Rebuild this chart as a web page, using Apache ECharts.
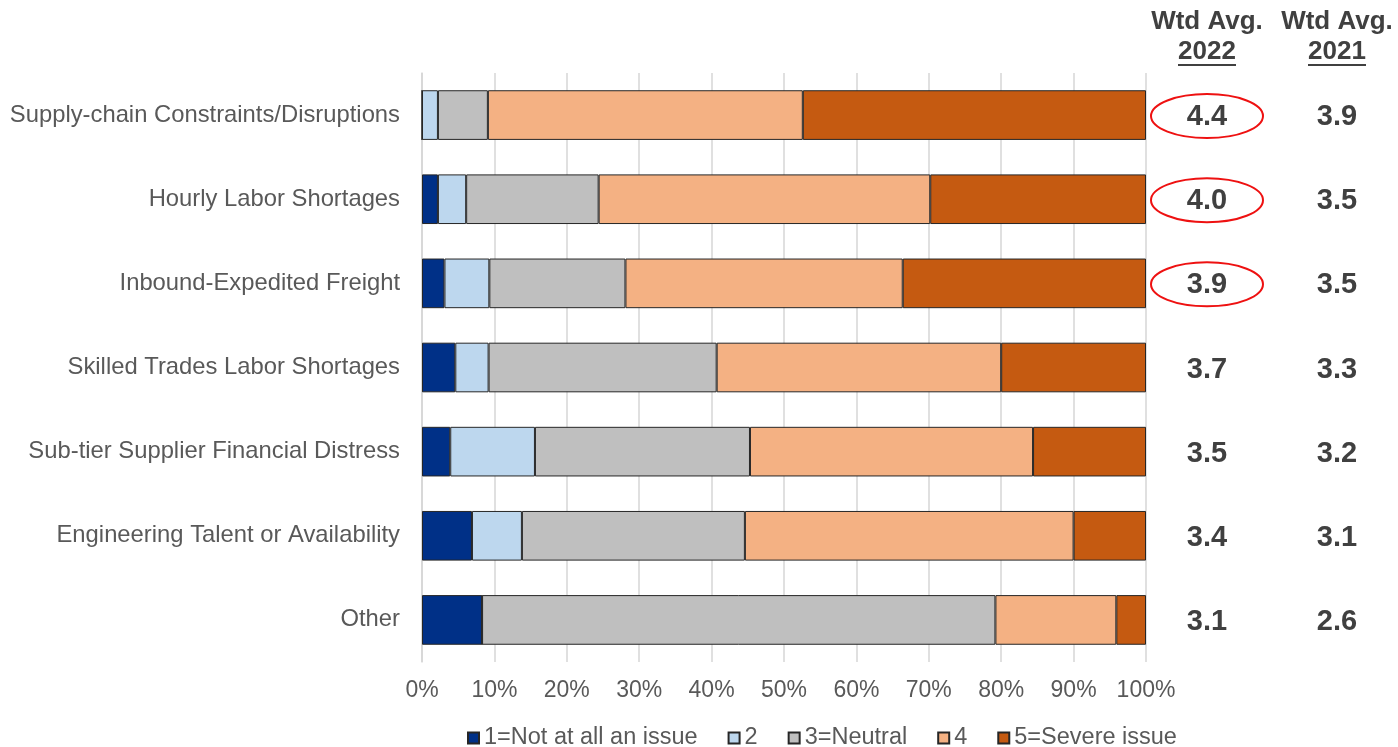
<!DOCTYPE html>
<html>
<head>
<meta charset="utf-8">
<script src="https://cdn.jsdelivr.net/npm/echarts@6/dist/echarts.min.js"></script>
<style>
  html, body { margin: 0; padding: 0; background: #ffffff; }
  #chart { width: 1398px; height: 747px; }
</style>
</head>
<body>
<div id="chart"></div>
<script>
// Issue categories, top to bottom
const categories = [
  'Supply-chain Constraints/Disruptions',
  'Hourly Labor Shortages',
  'Inbound-Expedited Freight',
  'Skilled Trades Labor Shortages',
  'Sub-tier Supplier Financial Distress',
  'Engineering Talent or Availability',
  'Other'
];

// Share of respondents (%) for each rating
const rating1 = [0, 2.2, 3.1, 4.6, 3.9, 6.9, 8.3];
const rating2 = [2.2, 3.9, 6.2, 4.6, 11.7, 6.9, 0];
const rating3 = [6.9, 18.3, 18.8, 31.5, 29.7, 30.8, 70.9];
const rating4 = [43.5, 45.8, 38.3, 39.3, 39.1, 45.4, 16.7];
const rating5 = [47.4, 29.8, 33.6, 20.0, 15.6, 10.0, 4.1];

const seriesNames = ['1=Not at all an issue', '2', '3=Neutral', '4', '5=Severe issue'];

// Weighted averages shown in the right-hand columns
const avg2022 = ['4.4', '4.0', '3.9', '3.7', '3.5', '3.4', '3.1'];
const avg2021 = ['3.9', '3.5', '3.5', '3.3', '3.2', '3.1', '2.6'];
const circled = [true, true, true, false, false, false, false];

const colors = ['#003087', '#BDD7EE', '#BFBFBF', '#F4B183', '#C55A11'];
const values = [rating1, rating2, rating3, rating4, rating5];

const FONT = '"Liberation Sans", Arial, sans-serif';
const chart = echarts.init(document.getElementById('chart'));

const series = values.map((data, i) => ({
  name: seriesNames[i],
  type: 'bar',
  stack: 'total',
  barCategoryGap: '41%',
  itemStyle: { color: colors[i], borderColor: '#262626', borderWidth: 1 },
  emphasis: { disabled: true },
  data: data
}));

chart.setOption({
  animation: false,
  textStyle: { fontFamily: FONT },
  grid: { left: 422, right: 252, top: 73, bottom: 85 },
  legend: {
    left: 462,
    top: 721,
    itemWidth: 11,
    itemHeight: 11,
    itemGap: 30,
    icon: 'rect',
    textStyle: { color: '#595959', fontSize: 23.5, fontFamily: FONT },
    data: seriesNames
  },
  xAxis: {
    type: 'value',
    min: 0,
    max: 100,
    interval: 10,
    axisLine: { show: false },
    axisTick: { show: false },
    splitLine: { lineStyle: { color: '#d6d6d6', width: 1.5 } },
    axisLabel: { formatter: '{value}%', color: '#595959', fontSize: 23, margin: 17, fontFamily: FONT }
  },
  yAxis: {
    type: 'category',
    inverse: true,
    data: categories,
    axisLine: { show: true, lineStyle: { color: '#d6d6d6', width: 1.5 } },
    axisTick: { show: false },
    axisLabel: { color: '#595959', fontSize: 23.8, margin: 22, fontFamily: FONT }
  },
  series: series
});

// Right-hand weighted-average columns
const col2022 = 1207;
const col2021 = 1337;
const textColor = '#404040';
const graphics = [];

function header(x, year) {
  graphics.push({
    type: 'text', x: x, y: 22,
    style: { text: 'Wtd Avg.', fill: textColor, font: 'bold 26px ' + FONT, textAlign: 'center', textVerticalAlign: 'middle' }
  });
  graphics.push({
    type: 'text', x: x, y: 52,
    style: { text: year, fill: textColor, font: 'bold 26px ' + FONT, textAlign: 'center', textVerticalAlign: 'middle' }
  });
  graphics.push({
    type: 'line',
    shape: { x1: x - 29, y1: 65, x2: x + 29, y2: 65 },
    style: { stroke: textColor, lineWidth: 2 }
  });
}
header(col2022, '2022');
header(col2021, '2021');

categories.forEach((c, i) => {
  const y = chart.convertToPixel({ yAxisIndex: 0 }, c);
  graphics.push({
    type: 'text', x: col2022, y: y + 2,
    style: { text: avg2022[i], fill: textColor, font: 'bold 29px ' + FONT, textAlign: 'center', textVerticalAlign: 'middle' }
  });
  graphics.push({
    type: 'text', x: col2021, y: y + 2,
    style: { text: avg2021[i], fill: textColor, font: 'bold 29px ' + FONT, textAlign: 'center', textVerticalAlign: 'middle' }
  });
  if (circled[i]) {
    graphics.push({
      type: 'ellipse',
      shape: { cx: col2022, cy: y + 1, rx: 56, ry: 22 },
      style: { fill: 'none', stroke: '#EE1111', lineWidth: 2 }
    });
  }
});

chart.setOption({ graphic: graphics });
</script>
</body>
</html>
